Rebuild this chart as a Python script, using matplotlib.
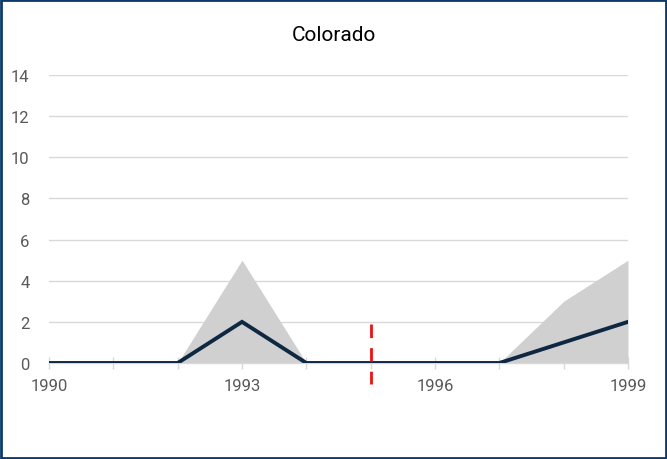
import matplotlib.pyplot as plt
from matplotlib.patches import Rectangle

years = [1990, 1991, 1992, 1993, 1994, 1995, 1996, 1997, 1998, 1999]
estimate = [0, 0, 0, 2, 0, 0, 0, 0, 1, 2]
band_low = [0, 0, 0, 0, 0, 0, 0, 0, 0, 0]
band_high = [0, 0, 0, 5, 0, 0, 0, 0, 3, 5]
event_year = 1995
event_span = [1.9, -1.0]
y_ticks = [0, 2, 4, 6, 8, 10, 12, 14]
x_labels = [1990, 1993, 1996, 1999]

plt.rcParams['font.family'] = ['Roboto', 'DejaVu Sans']

fig = plt.figure(figsize=(6.67, 4.6), dpi=100)
ax = fig.add_axes([0.0735, 0.2087, 0.868, 0.6261])

# uncertainty band and central line
ax.fill_between(years, band_low, band_high, color='#d0d0d0', lw=0, zorder=2)
ax.plot(years, estimate, color='#0e2841', lw=2.8, solid_joinstyle='miter', zorder=4)

# policy year marker, drawn top-down so the dash pattern starts at the top
ax.plot([event_year, event_year], event_span, color='#ee1111', lw=2,
        dashes=(4.9, 3.6), dash_capstyle='butt', clip_on=False, zorder=5)

ax.set_xlim(years[0], years[-1])
ax.set_ylim(0, 14)
ax.set_yticks(y_ticks)
ax.set_xticks(x_labels)
ax.set_xticks(years, minor=True)
ax.yaxis.grid(True, color='#d9d9d9', lw=1)
ax.set_axisbelow(True)

for s in ['top', 'right', 'left']:
    ax.spines[s].set_visible(False)
ax.spines['bottom'].set_color('#d9d9d9')
ax.spines['bottom'].set_linewidth(1)

ax.tick_params(axis='y', length=0, pad=14, labelsize=12, labelcolor='#595959')
ax.tick_params(axis='x', which='both', direction='inout', length=9, color='#d9d9d9',
               width=1, pad=6, labelsize=12, labelcolor='#595959')

fig.text(0.5, 0.922, 'Colorado', ha='center', va='center', fontsize=15, color='#000000')

# outer frame
fig.patches.append(Rectangle((0.0015, 0.002), 0.997, 0.996, transform=fig.transFigure,
                             fill=False, edgecolor='#0b3a6b', lw=2))

fig.savefig('out.png', dpi=100)
